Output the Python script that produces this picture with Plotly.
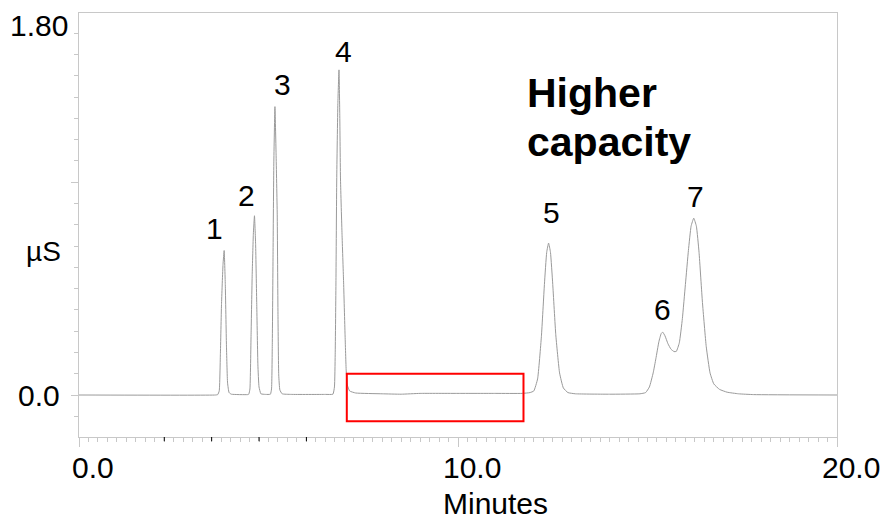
import plotly.graph_objects as go

# Conductivity trace (minutes, µS)
time_min = [
    0.00, 3.60, 3.66, 3.70, 3.73, 3.76, 3.80, 3.83, 3.86, 3.89, 3.92, 3.96, 4.02,
    4.45, 4.48, 4.51, 4.54, 4.57, 4.60, 4.63, 4.66, 4.69, 4.72, 4.75, 4.80,
    4.92, 5.05, 5.08, 5.10, 5.12, 5.14, 5.17, 5.20, 5.23, 5.25, 5.27, 5.30, 5.36,
    5.60, 6.50, 6.70, 6.74, 6.76, 6.78, 6.80, 6.83, 6.86, 6.88, 6.90, 6.94, 6.98,
    7.02, 7.05, 7.08, 7.14, 7.30, 8.00, 8.50, 9.00, 10.00, 11.00, 11.70,
    11.90, 12.00, 12.10, 12.20, 12.28, 12.34, 12.39, 12.44, 12.50, 12.58, 12.68,
    12.78, 12.90, 13.10, 14.00, 14.80, 14.95, 15.05, 15.15, 15.22, 15.30, 15.36,
    15.40, 15.46, 15.54, 15.62, 15.70, 15.76, 15.84, 15.92, 16.00, 16.08, 16.15,
    16.22, 16.29, 16.36, 16.45, 16.55, 16.65, 16.75, 16.90, 17.10, 17.40, 17.80,
    20.00,
]
signal_us = [
    0.000, 0.000, 0.002, 0.020, 0.200, 0.450, 0.650, 0.719, 0.550, 0.250, 0.060, 0.012, 0.004,
    0.002, 0.004, 0.030, 0.300, 0.600, 0.800, 0.892, 0.750, 0.450, 0.150, 0.040, 0.006,
    0.003, 0.004, 0.030, 0.250, 0.700, 1.150, 1.435, 1.200, 0.900, 0.400, 0.100, 0.025, 0.006,
    0.003, 0.003, 0.004, 0.040, 0.200, 0.570, 1.070, 1.450, 1.618, 1.400, 1.070, 0.800, 0.570,
    0.300, 0.120, 0.050, 0.020, 0.010, 0.006, 0.004, 0.008, 0.008, 0.008, 0.008,
    0.012, 0.020, 0.080, 0.290, 0.550, 0.710, 0.756, 0.710, 0.550, 0.300, 0.110,
    0.035, 0.012, 0.006, 0.004, 0.006, 0.012, 0.040, 0.110, 0.180, 0.265, 0.305,
    0.313, 0.295, 0.255, 0.228, 0.216, 0.217, 0.260, 0.380, 0.550, 0.720, 0.840,
    0.880, 0.840, 0.710, 0.460, 0.240, 0.110, 0.055, 0.028, 0.014, 0.006, 0.002,
    0.000,
]

# Peak numbering and apex positions
peak_names = ["1", "2", "3", "4", "5", "6", "7"]
peak_times = [3.83, 4.63, 5.17, 6.86, 12.39, 15.40, 16.22]
peak_heights = [0.719, 0.892, 1.435, 1.618, 0.756, 0.313, 0.880]

# Event marks on the time axis
event_times = [2.25, 3.50, 4.75, 6.00]

# Highlighted baseline window (minutes, µS)
window_x = [7.066, 11.728]
window_y = [-0.131, 0.106]

x_tick_vals = [0.0, 10.0, 20.0]
x_tick_text = ["0.0", "10.0", "20.0"]
y_step = 1.8 / 17

FONT = "Liberation Sans, Arial, sans-serif"
AXIS_GREY = "#c8c8c8"

fig = go.Figure()
fig.add_trace(go.Scatter(
    x=time_min, y=signal_us, mode="lines",
    line=dict(color="#9a9a9a", width=1, shape="spline", smoothing=0.4),
    hoverinfo="skip", showlegend=False,
))

# Peak numbers above each apex (pixel offsets)
label_dx = [-10, -8, 8, 5, 3, 0, 2]
label_dy = [22, 20, 22, 18, 31, 23, 22]
for name, t, h, dx, dy in zip(peak_names, peak_times, peak_heights, label_dx, label_dy):
    fig.add_annotation(x=t, y=h, text=name, showarrow=False, xshift=dx, yshift=dy,
                       font=dict(family=FONT, size=30, color="black"))

# Time-axis labels, set slightly right of their ticks
for v, s in zip(x_tick_vals, x_tick_text):
    fig.add_annotation(xref="x", yref="paper", x=v, y=-0.072, xshift=14, yanchor="middle",
                       text=s, showarrow=False, font=dict(family=FONT, size=30, color="black"))

# Y-axis labels
fig.add_annotation(xref="paper", yref="y", x=-0.012, y=1.8, yshift=8, xanchor="right",
                   text="1.80", showarrow=False, font=dict(family=FONT, size=30, color="black"))
fig.add_annotation(xref="paper", yref="y", x=-0.022, y=0.0, xanchor="right",
                   text="0.0", showarrow=False, font=dict(family=FONT, size=30, color="black"))
fig.add_annotation(xref="paper", yref="y", x=-0.021, y=0.713, xanchor="right",
                   text="µS", showarrow=False, font=dict(family=FONT, size=28, color="black"))

# X-axis title
fig.add_annotation(xref="paper", yref="paper", x=0.55, y=-0.157, yanchor="middle",
                   text="Minutes", showarrow=False, font=dict(family=FONT, size=30, color="black"))

# Caption, two lines
fig.add_annotation(xref="paper", yref="paper", x=0.589, y=0.871, xanchor="left", yanchor="top",
                   text="<b>Higher</b>", showarrow=False,
                   font=dict(family=FONT, size=41, color="black"))
fig.add_annotation(xref="paper", yref="paper", x=0.589, y=0.755, xanchor="left", yanchor="top",
                   text="<b>capacity</b>", showarrow=False,
                   font=dict(family=FONT, size=41, color="black"))

# Event tick marks below the time axis
for t in event_times:
    fig.add_shape(type="line", xref="x", yref="paper", x0=t, x1=t, y0=0, y1=-0.01,
                  line=dict(color="black", width=1))

fig.add_shape(type="rect", xref="x", yref="y",
              x0=window_x[0], x1=window_x[1], y0=window_y[0], y1=window_y[1],
              line=dict(color="red", width=2), fillcolor="rgba(0,0,0,0)")

fig.update_layout(
    width=890, height=519,
    margin=dict(l=79, r=53, t=13, b=82),
    paper_bgcolor="white", plot_bgcolor="white",
    font=dict(family=FONT, size=30, color="black"),
    showlegend=False,
    xaxis=dict(
        range=[0, 20], showgrid=False, zeroline=False,
        showline=True, linecolor=AXIS_GREY, linewidth=1, mirror=True,
        tickmode="array", tickvals=x_tick_vals, ticktext=["", "", ""],
        ticks="outside", ticklen=9, tickcolor=AXIS_GREY,
        minor=dict(tickmode="linear", tick0=0, dtick=0.25, ticks="outside",
                   ticklen=4, tickcolor=AXIS_GREY),
    ),
    yaxis=dict(
        range=[-0.209, 1.901], showgrid=False, zeroline=False,
        showline=True, linecolor=AXIS_GREY, linewidth=1, mirror=True,
        tickmode="array", tickvals=[0.0, 10 * y_step], ticktext=["", ""],
        ticks="outside", ticklen=7, tickcolor=AXIS_GREY,
        minor=dict(tickmode="linear", tick0=0, dtick=y_step, ticks="outside",
                   ticklen=4, tickcolor=AXIS_GREY),
    ),
)

fig.write_html("out.html")
